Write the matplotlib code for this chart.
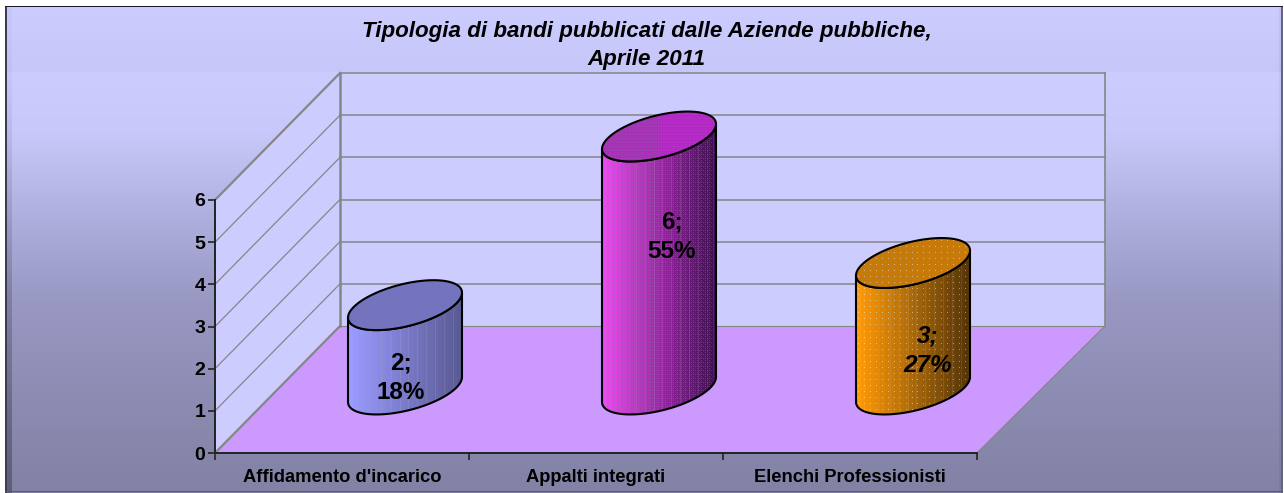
import numpy as np
import matplotlib
matplotlib.use("Agg")
import matplotlib.pyplot as plt
from matplotlib.patches import Polygon

plt.rcParams['font.family'] = ['Liberation Sans', 'DejaVu Sans']

title_lines = ["Tipologia di bandi pubblicati dalle Aziende pubbliche,", "Aprile 2011"]
categories = ["Affidamento d'incarico", "Appalti integrati", "Elenchi Professionisti"]
values = [2, 6, 3]
percents = ["18%", "55%", "27%"]
y_ticks = [0, 1, 2, 3, 4, 5, 6]

W, H = 1284, 493
fig = plt.figure(figsize=(W / 100, H / 100), dpi=100)

# ---- background (pixel image) ----
ys = np.arange(H)
ramp = np.stack([
    np.interp(ys, [72, 130, 200, 300, 400, 490], [204, 200, 180, 152, 140, 130]),
    np.interp(ys, [72, 130, 200, 300, 400, 490], [204, 200, 180, 152, 140, 130]),
    np.interp(ys, [72, 130, 200, 300, 400, 490], [255, 250, 228, 195, 178, 165]),
], axis=1)
band = np.stack([np.interp(ys, [6, 72], [204, 198]), np.interp(ys, [6, 72], [204, 198]),
                 np.interp(ys, [6, 72], [255, 248])], axis=1)
bg = np.ones((H, W, 3))
for y in range(H):
    bg[y, :, :] = (ramp[y] if y >= 72 else band[y]) / 255
# left darker strip, right/bottom edges
bg[:, 7:12, :] *= np.interp(ys, [0, 72, 493], [0.98, 0.97, 0.72])[:, None, None]
bg[:, 1279:1282, :] *= 0.95
bg[:, 5:7, :] = np.array([60, 60, 85]) / 255
bg[:, 1281:1283, :] = np.array([100, 100, 135]) / 255
bg[491:492, 5:1283, :] = np.array([90, 90, 120]) / 255
bg[6:7, 5:1283, :] = np.array([25, 25, 35]) / 255
bg[:6, :, :] = 1
bg[:, :5, :] = 1
bg[:, 1283:, :] = 1
ax_bg = fig.add_axes([0, 0, 1, 1], zorder=0)
ax_bg.imshow(bg, aspect='auto', interpolation='nearest', extent=(0, W, H, 0))
ax_bg.axis('off')

# ---- main axes: the front plane of the 3-D box ----
LEFT, RIGHT, BOTTOM, TOP = 215, 977, 453, 200
ax = fig.add_axes([LEFT / W, (H - BOTTOM) / H, (RIGHT - LEFT) / W, (BOTTOM - TOP) / H], zorder=1)
ax.patch.set_alpha(0)
ax.set_xlim(0, len(categories))
ax.set_ylim(0, 6)
PX_X = len(categories) / (RIGHT - LEFT)   # data units per pixel
PX_Y = 6 / (BOTTOM - TOP)
DX, DXR, DY = 125 * PX_X, 128 * PX_X, 127 * PX_Y   # box depth
GRAY = '#868686'

xl = ax.get_xlim()
# walls and floor
ax.add_patch(Polygon([(xl[0], 0), (xl[0] + DX, DY), (xl[1] + DXR, DY), (xl[1], 0)],
                     fc='#CC99FF', ec='none', zorder=1, clip_on=False))
ax.add_patch(Polygon([(xl[0], 0), (xl[0], 6), (xl[0] + DX, 6 + DY), (xl[0] + DX, DY)],
                     fc='#CCCCFF', ec='none', zorder=1, clip_on=False))
ax.add_patch(Polygon([(xl[0] + DX, DY), (xl[0] + DX, 6 + DY), (xl[1] + DXR, 6 + DY), (xl[1] + DXR, DY)],
                     fc='#CCCCFF', ec='none', zorder=1, clip_on=False))
for v in y_ticks:
    lw = 1.6 if v in (0, 6) else 0.9
    ax.plot([xl[0], xl[0] + DX], [v, v + DY], color=GRAY, lw=lw, zorder=2, clip_on=False)
    ax.plot([xl[0] + DX, xl[1] + DXR], [v + DY, v + DY], color=GRAY, lw=1.1 if v else 0.8, zorder=2, clip_on=False)
ax.plot([xl[0] + DX] * 2, [DY, 6 + DY], color=GRAY, lw=1.8, zorder=2, clip_on=False)
ax.plot([xl[1] + DXR] * 2, [DY, 6 + DY], color=GRAY, lw=1.2, zorder=2, clip_on=False)
ax.plot([xl[1], xl[1] + DXR], [0, DY], color=GRAY, lw=0.9, zorder=2, clip_on=False)

# ---- cylinders ----
RX, SHEAR, RY = 57.0, 12.5, 21.6
t = np.linspace(0, 2 * np.pi, 181)
styles = [
    dict(side=[(155, 155, 255), (88, 88, 145)], top=(115, 115, 190), tex=None),
    dict(side=[(255, 60, 255), (55, 15, 75)], top=(178, 40, 195), tex='mesh'),
    dict(side=[(255, 155, 10), (80, 50, 8)], top=(198, 122, 10), tex='dots'),
]


def texture(h, w, c0, c1, tex, stripes=True):
    frac = np.linspace(0, 1, w)
    if stripes:
        frac = np.floor(frac * 24) / 24
    img = np.zeros((h, w, 3))
    for k in range(3):
        img[:, :, k] = c0[k] + (c1[k] - c0[k]) * frac
    if stripes:
        for col in range(int(w * 0.3), w, 9):
            img[:, col, :] = img[:, col, :] * 0.85 + 255 * 0.15 * 0.75
    yy, xx = np.mgrid[0:h, 0:w]
    if tex == 'mesh':
        m = ((xx % 4 == 0) & (yy % 2 == 0)) | ((yy % 4 == 0) & (xx % 2 == 0))
        img[m] = img[m] * 0.62 + np.array([150, 110, 170]) * 0.38
    elif tex == 'dots':
        m = (xx % 6 == 2) & (yy % 6 == 2)
        img[m] = img[m] * 0.55 + 255 * 0.45
    return np.clip(img, 0, 255) / 255


for i, (val, st) in enumerate(zip(values, styles)):
    cx = i + 0.5 + DX / 2 + 0.5 * PX_X
    cy0 = DY / 2
    ex = RX * PX_X * np.cos(t)
    ey = (SHEAR * np.cos(t) - RY * np.sin(t)) * PX_Y   # value units, y up
    top_pts = np.column_stack([cx + ex, val + cy0 + ey])
    low = t <= np.pi  # front arc of the ellipse
    bottom_arc = np.column_stack([cx + ex[low], cy0 + ey[low]])
    top_arc = np.column_stack([cx + ex[low], val + cy0 + ey[low]])
    side_pts = np.vstack([bottom_arc, top_arc[::-1]])
    side = Polygon(side_pts, closed=True, fc='none', ec='black', lw=1.5, zorder=5, clip_on=False, joinstyle='round')
    ax.add_patch(side)
    x0, x1 = cx - RX * PX_X, cx + RX * PX_X
    y0, y1 = cy0 - 30 * PX_Y, val + cy0 + 30 * PX_Y
    h = int((y1 - y0) / PX_Y)
    im = ax.imshow(texture(h, 115, *st['side'], st['tex']), extent=(x0, x1, y0, y1), aspect='auto',
                   interpolation='nearest', zorder=4)
    im.set_clip_box(fig.bbox)
    im.set_clip_path(side)
    top = Polygon(top_pts, closed=True, fc='none', ec='black', lw=1.5, zorder=7, clip_on=False)
    ax.add_patch(top)
    imt = ax.imshow(texture(h, 115, st['top'], st['top'], st['tex'], stripes=False), extent=(x0, x1, y0, y1),
                    aspect='auto', interpolation='nearest', zorder=6)
    imt.set_clip_box(fig.bbox)
    imt.set_clip_path(top)

ax.set_xlim(xl)
ax.set_ylim(0, 6)

# ---- data labels ----
label_dx = [-4, 13, 15]     # pixel offset from the cylinder centre
label_dy = [12, 152.5, 39]  # pixel offset above the cylinder base centre
for i, (val, pct) in enumerate(zip(values, percents)):
    ax.text(i + 0.5 + DX / 2 + (label_dx[i] + 0.5) * PX_X, DY / 2 + label_dy[i] * PX_Y, f"{val};\n{pct}",
            ha='center', va='center', ma='center', fontsize=17.5, fontweight='bold',
            fontstyle='italic' if i == 2 else 'normal', linespacing=1.35, zorder=9, color='black', clip_on=False)

# ---- axes ----
for s in ('top', 'right'):
    ax.spines[s].set_visible(False)
for s in ('left', 'bottom'):
    ax.spines[s].set_color('#222222')
    ax.spines[s].set_linewidth(1.4)
    ax.spines[s].set_zorder(3)
ax.set_yticks(y_ticks)
ax.set_xticks(range(len(categories) + 1))
ax.set_xticklabels([])
ax.set_xticks([i + 0.5 for i in range(len(categories))], labels=categories, minor=True)
ax.tick_params(axis='x', which='major', length=5, width=1.2, color='#222222', direction='out')
ax.tick_params(axis='x', which='minor', length=0, pad=11.2, labelsize=13.2)
ax.tick_params(axis='y', length=5, width=1.2, color='#222222', direction='out', labelsize=14, pad=2)
for lab in ax.get_xticklabels(minor=True) + ax.get_yticklabels():
    lab.set_fontweight('bold')

# ---- title ----
fig.text(647 / W, 1 - 32 / H, title_lines[0], ha='center', va='center', fontsize=16.1, fontweight='bold', fontstyle='italic')
fig.text(647 / W, 1 - 60 / H, title_lines[1], ha='center', va='center', fontsize=16.1, fontweight='bold', fontstyle='italic')

fig.savefig('out.png', dpi=100)
